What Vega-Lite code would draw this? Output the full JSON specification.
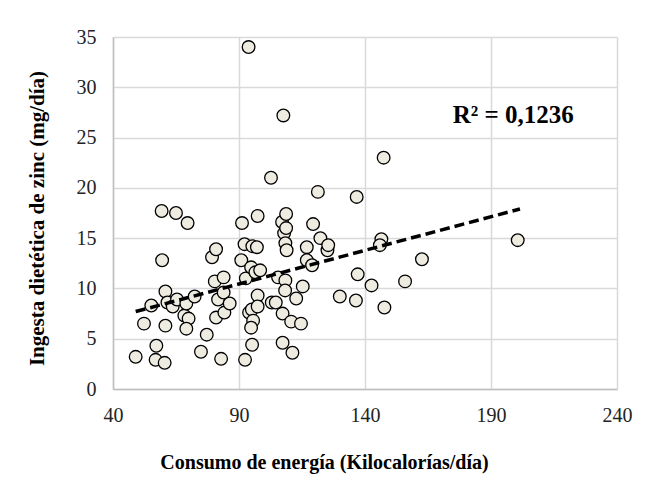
{
  "$schema": "https://vega.github.io/schema/vega-lite/v6.json",
  "autosize": {"type": "none"},
  "width": 504,
  "height": 352,
  "padding": {"left": 113, "top": 37, "right": 30, "bottom": 91},
  "background": "white",
  "config": {
    "view": {"stroke": null},
    "font": "Liberation Serif"
  },
  "datasets": {
    "pts": [
      {"energia": 49.0, "zinc": 3.2}, {"energia": 52.3, "zinc": 6.5}, {"energia": 55.2, "zinc": 8.3},
      {"energia": 57.2, "zinc": 4.3}, {"energia": 56.9, "zinc": 2.9}, {"energia": 60.5, "zinc": 2.6},
      {"energia": 59.3, "zinc": 17.7}, {"energia": 59.5, "zinc": 12.8}, {"energia": 60.8, "zinc": 9.7},
      {"energia": 60.8, "zinc": 6.3}, {"energia": 61.6, "zinc": 8.6}, {"energia": 63.7, "zinc": 8.2},
      {"energia": 65.0, "zinc": 17.5}, {"energia": 65.4, "zinc": 8.9}, {"energia": 69.6, "zinc": 16.5},
      {"energia": 68.3, "zinc": 7.3}, {"energia": 69.1, "zinc": 8.5}, {"energia": 70.0, "zinc": 7.0},
      {"energia": 69.1, "zinc": 6.0}, {"energia": 72.4, "zinc": 9.2}, {"energia": 74.9, "zinc": 3.7},
      {"energia": 77.2, "zinc": 5.4}, {"energia": 79.3, "zinc": 13.1}, {"energia": 80.9, "zinc": 13.9},
      {"energia": 80.4, "zinc": 10.7}, {"energia": 80.9, "zinc": 7.1}, {"energia": 81.7, "zinc": 8.9},
      {"energia": 82.9, "zinc": 3.0}, {"energia": 83.9, "zinc": 11.1}, {"energia": 83.9, "zinc": 9.6},
      {"energia": 84.2, "zinc": 7.6}, {"energia": 86.3, "zinc": 8.5}, {"energia": 91.2, "zinc": 16.5},
      {"energia": 90.9, "zinc": 12.8}, {"energia": 92.2, "zinc": 14.4}, {"energia": 92.7, "zinc": 11.0},
      {"energia": 92.4, "zinc": 2.9}, {"energia": 93.8, "zinc": 34.0}, {"energia": 94.8, "zinc": 12.1},
      {"energia": 95.3, "zinc": 14.2}, {"energia": 97.1, "zinc": 14.1}, {"energia": 97.4, "zinc": 17.2},
      {"energia": 96.5, "zinc": 11.6}, {"energia": 98.4, "zinc": 11.8}, {"energia": 94.0, "zinc": 7.6},
      {"energia": 95.1, "zinc": 7.9}, {"energia": 95.6, "zinc": 6.8}, {"energia": 94.8, "zinc": 6.1},
      {"energia": 95.2, "zinc": 4.4}, {"energia": 97.4, "zinc": 9.3}, {"energia": 97.4, "zinc": 8.2},
      {"energia": 102.7, "zinc": 21.0}, {"energia": 103.0, "zinc": 8.6}, {"energia": 104.6, "zinc": 8.6},
      {"energia": 105.5, "zinc": 11.1}, {"energia": 107.6, "zinc": 27.2}, {"energia": 107.1, "zinc": 16.6},
      {"energia": 107.9, "zinc": 15.5}, {"energia": 108.7, "zinc": 17.4}, {"energia": 108.7, "zinc": 16.0},
      {"energia": 108.4, "zinc": 14.5}, {"energia": 108.9, "zinc": 13.8}, {"energia": 108.4, "zinc": 10.8},
      {"energia": 108.3, "zinc": 9.8}, {"energia": 107.3, "zinc": 7.5}, {"energia": 107.3, "zinc": 4.6},
      {"energia": 110.7, "zinc": 6.7}, {"energia": 111.2, "zinc": 3.6}, {"energia": 112.7, "zinc": 9.0},
      {"energia": 114.6, "zinc": 6.5}, {"energia": 115.3, "zinc": 10.2}, {"energia": 116.9, "zinc": 14.1},
      {"energia": 116.9, "zinc": 12.8}, {"energia": 119.0, "zinc": 12.3}, {"energia": 119.4, "zinc": 16.4},
      {"energia": 121.3, "zinc": 19.6}, {"energia": 122.3, "zinc": 15.0}, {"energia": 125.1, "zinc": 13.8},
      {"energia": 125.4, "zinc": 14.3}, {"energia": 130.0, "zinc": 9.2}, {"energia": 136.7, "zinc": 19.1},
      {"energia": 137.1, "zinc": 11.4}, {"energia": 136.4, "zinc": 8.8}, {"energia": 142.6, "zinc": 10.3},
      {"energia": 146.5, "zinc": 14.9}, {"energia": 145.9, "zinc": 14.3}, {"energia": 147.4, "zinc": 23.0},
      {"energia": 147.7, "zinc": 8.1}, {"energia": 155.9, "zinc": 10.7}, {"energia": 162.6, "zinc": 12.9},
      {"energia": 200.6, "zinc": 14.8}
    ],
    "trend": [
      {"energia": 49.0, "zinc": 7.7},
      {"energia": 201.5, "zinc": 17.9}
    ],
    "label": [
      {"energia": 198.8, "zinc": 26.4, "texto": "R² = 0,1236"}
    ]
  },
  "layer": [
    {
      "data": {"name": "pts"},
      "mark": {"type": "point", "shape": "circle", "filled": true, "fill": "#EEECE1", "stroke": "#000000", "strokeWidth": 1.3, "size": 160, "opacity": 1},
      "encoding": {
        "x": {
          "field": "energia", "type": "quantitative",
          "scale": {"domain": [40, 240], "nice": false, "zero": false},
          "axis": {
            "values": [40, 90, 140, 190, 240],
            "title": "Consumo de energía (Kilocalorías/día)",
            "titleFont": "Liberation Serif", "titleFontSize": 20, "titleFontWeight": "bold", "titleColor": "#000000",
            "titleX": 211, "titleY": 73, "titleBaseline": "middle",
            "labelFont": "Liberation Serif", "labelFontSize": 20, "labelColor": "#222222", "labelPadding": 16,
            "ticks": false, "grid": true, "gridColor": "#D9D9D9", "gridWidth": 1.5,
            "domainColor": "#BFBFBF", "domainWidth": 1.5, "labelFlush": false
          }
        },
        "y": {
          "field": "zinc", "type": "quantitative",
          "scale": {"domain": [0, 35], "nice": false, "zero": false},
          "axis": {
            "values": [0, 5, 10, 15, 20, 25, 30, 35],
            "title": "Ingesta dietética de zinc (mg/día)",
            "titleFont": "Liberation Serif", "titleFontSize": 21, "titleFontWeight": "bold", "titleColor": "#000000",
            "titleX": -76, "titleY": 181, "titleBaseline": "middle", "titleAngle": -90,
            "labelFont": "Liberation Serif", "labelFontSize": 20, "labelColor": "#222222", "labelPadding": 17,
            "ticks": false, "grid": true, "gridColor": "#D9D9D9", "gridWidth": 1.5,
            "domainColor": "#BFBFBF", "domainWidth": 1.5, "labelFlush": false
          }
        }
      }
    },
    {
      "data": {"name": "trend"},
      "mark": {"type": "line", "color": "#000000", "strokeWidth": 3.5, "strokeDash": [10, 5], "strokeCap": "butt"},
      "encoding": {
        "x": {"field": "energia", "type": "quantitative"},
        "y": {"field": "zinc", "type": "quantitative"}
      }
    },
    {
      "data": {"name": "label"},
      "mark": {"type": "text", "font": "Liberation Serif", "fontSize": 25, "fontWeight": "bold", "color": "#000000", "align": "center", "baseline": "alphabetic"},
      "encoding": {
        "x": {"field": "energia", "type": "quantitative"},
        "y": {"field": "zinc", "type": "quantitative"},
        "text": {"field": "texto"}
      }
    }
  ]
}
